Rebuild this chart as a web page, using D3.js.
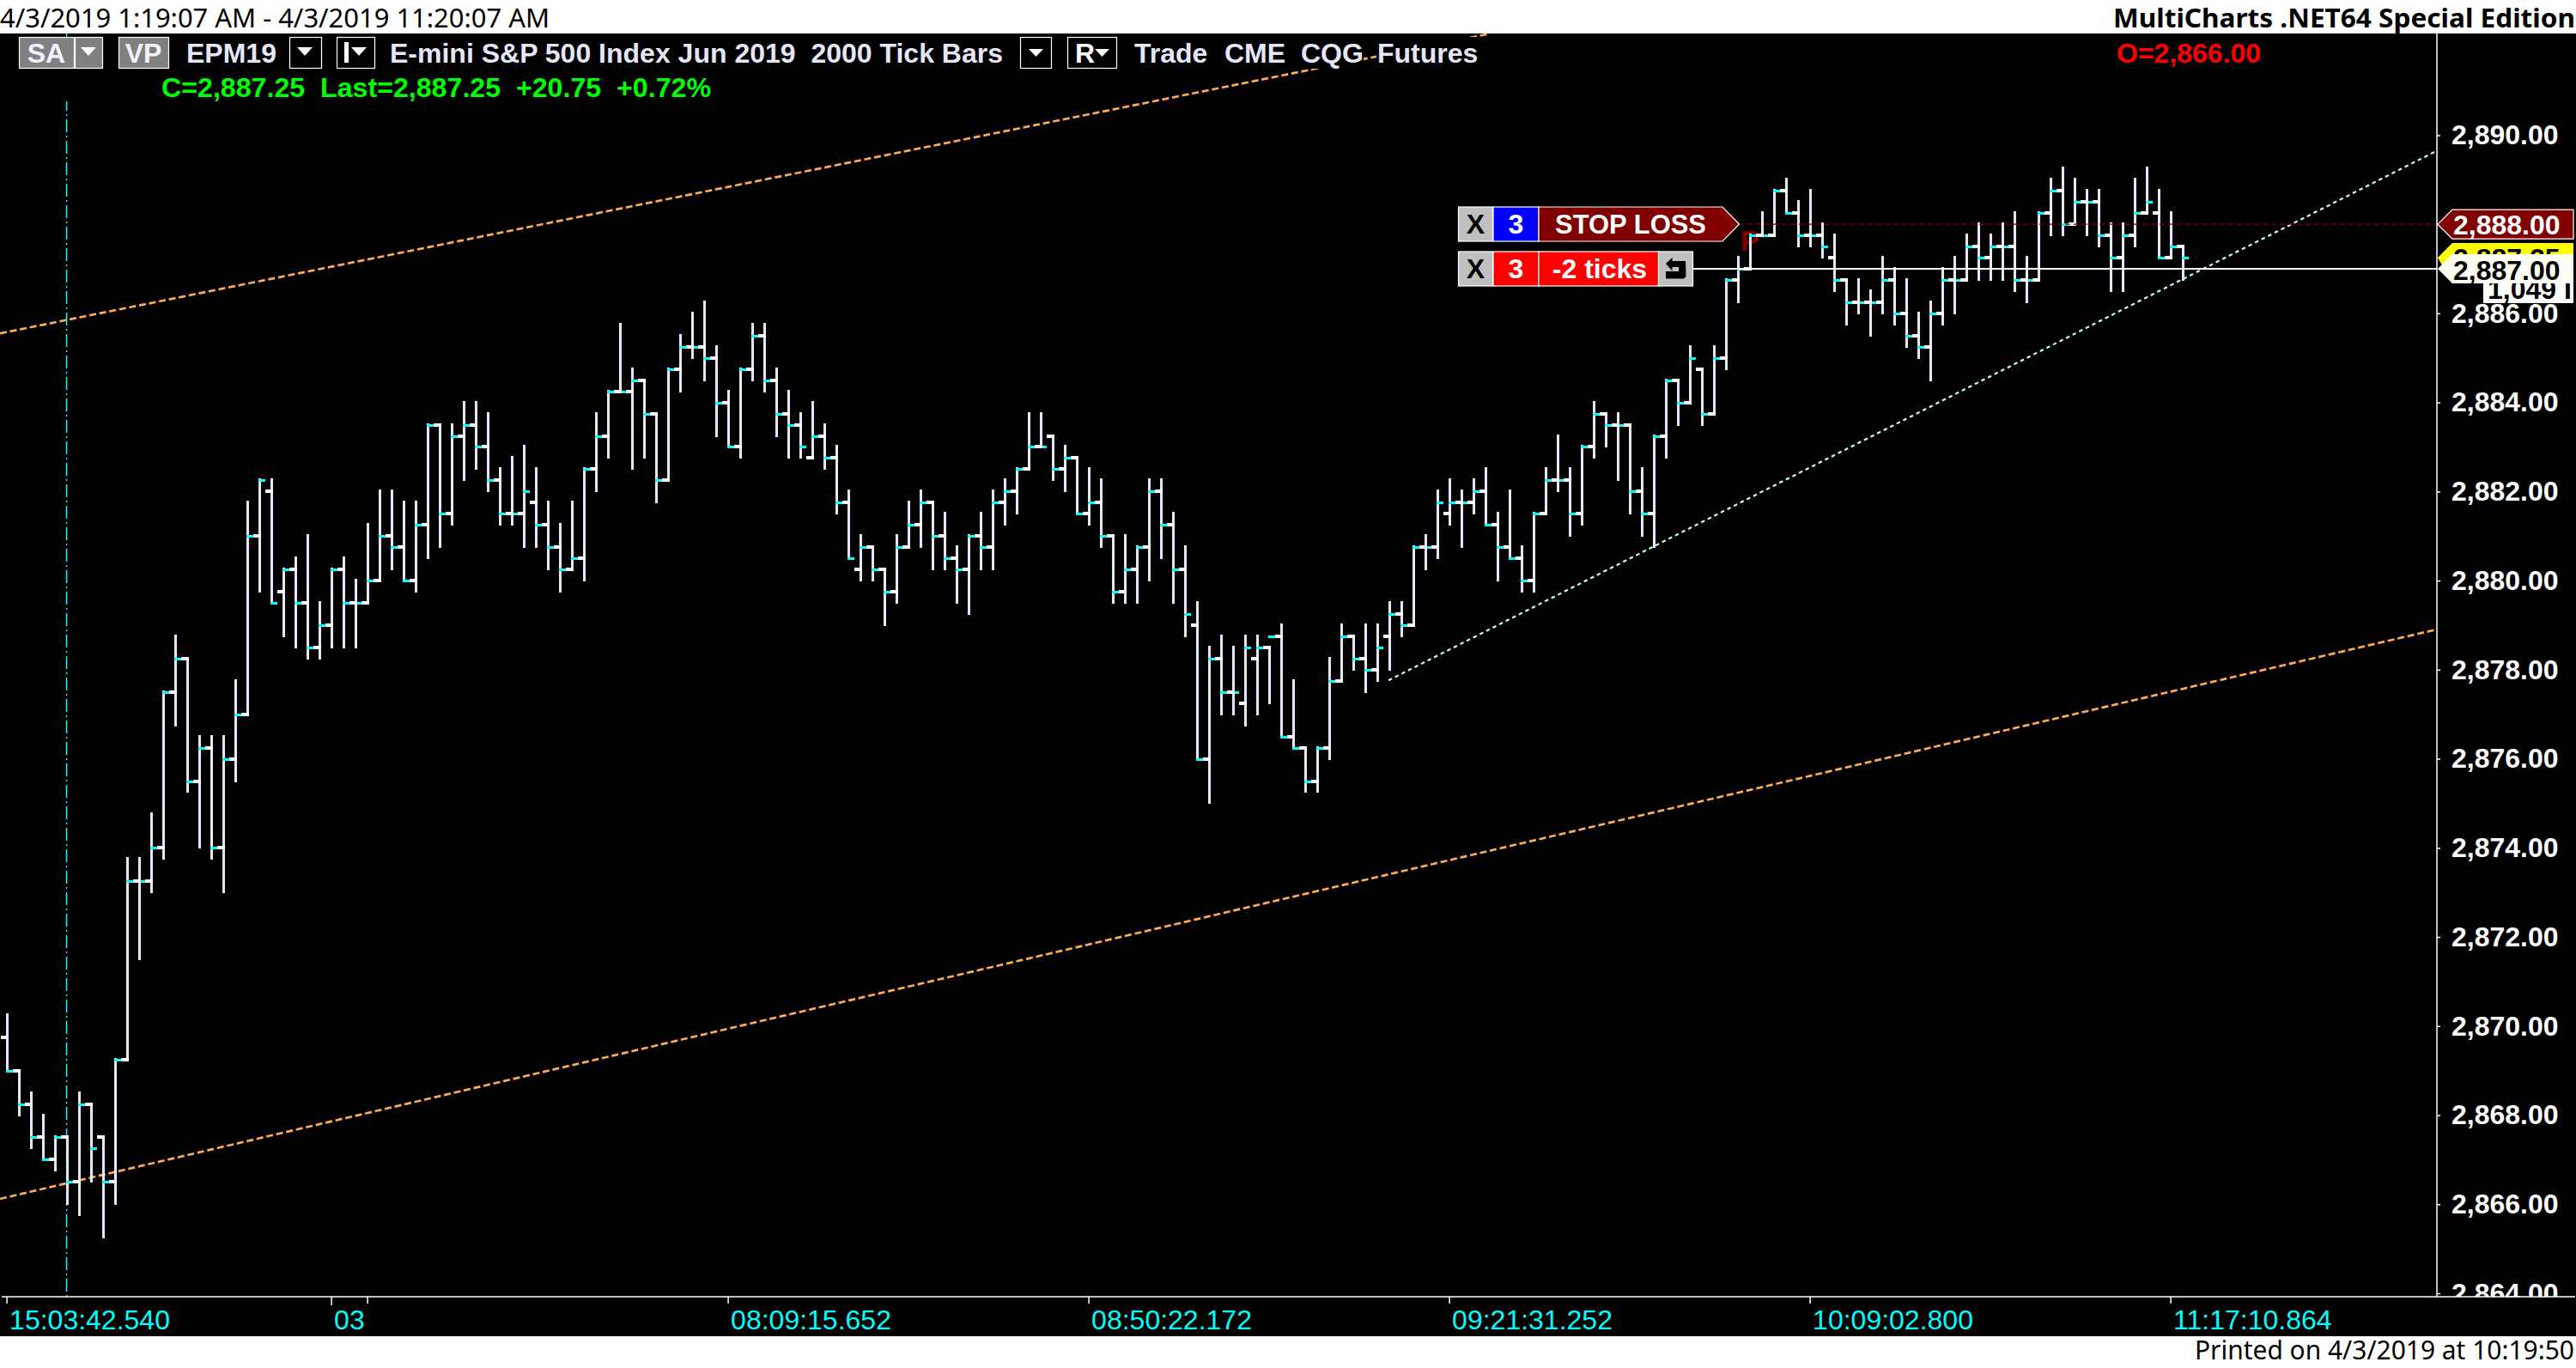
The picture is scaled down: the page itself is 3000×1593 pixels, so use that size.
<!DOCTYPE html>
<meta charset="utf-8">
<head>
    <script src="https://d3js.org/d3.v7.min.js"></script>
    <title>EPM19 2000 Tick Bars</title>
</head>
<body>
    <div id="chart"></div>
</body>
<style>
    html, body { margin: 0; padding: 0; background: #fff; overflow: hidden; }
    svg { display: block; }
    text { font-family: "Liberation Sans", Arial, sans-serif; white-space: pre; }
    .axis text { font-family: "Liberation Sans", Arial, sans-serif; }
</style>
<script>
    // OHLC of the 2000 tick bars, one value per bar
    var opens = [2869.75,2869,2868.25,2867.5,2867,2867.5,2866.5,2868.25,2867.5,2866.5,
        2869.25,2873.25,2873.25,2874,2877.5,2878.25,2875.5,2876.25,2874,2876,
        2877,2881,2882,2879.75,2880.25,2879.5,2878.5,2879,2880.25,2879.5,
        2879.5,2880,2881,2880.75,2880,2881.25,2883.5,2881.5,2883.25,2883.5,
        2883,2882.25,2881.5,2881.5,2881.75,2881.25,2880.75,2880.25,2880.5,2882.5,
        2883.25,2884.25,2884.25,2884.5,2883.75,2882.25,2884.75,2885.25,2885.25,2885,
        2884,2883,2884.75,2885.5,2884.5,2883.75,2883.5,2882.75,2883.25,2882.75,
        2881.75,2880.25,2880.75,2880.25,2879.75,2880.75,2881.25,2881.75,2881,2880.5,
        2880.25,2881,2880.75,2881.75,2882,2882.5,2883,2883.25,2882.5,2882.75,
        2881.5,2881.75,2881,2879.75,2880.25,2880.75,2882,2881.25,2880.25,2879,
        2876,2878.25,2877.5,2877.25,2878.25,2878.5,2878.75,2876.5,2876.25,2875.5,
        2876.25,2877.75,2878.75,2878.25,2878,2878.75,2879.25,2879,2880.75,2880.75,
        2881.5,2881.75,2881.75,2882,2881.25,2880.75,2880.5,2880,2881.5,2882.25,
        2882.25,2881.5,2883,2883.75,2883.5,2883.5,2882,2881.5,2883.25,2884.5,
        2884,2884.75,2883.75,2885,2886.75,2887,2887.75,2887.75,2888.75,2888.25,
        2887.75,2887.75,2887.25,2886.75,2886.25,2886.25,2886.25,2886.75,2886,2885.5,
        2885.25,2886,2886.75,2886.75,2887.5,2887.25,2887.5,2887.5,2886.75,2886.75,
        2888.25,2888.75,2888,2888.5,2888.5,2887.75,2887.25,2887.75,2888.25,2888.25,
        2887.25,2887.5];
    var highs = [2870.25,2869,2868.5,2868,2867.5,2867.5,2868.5,2868.25,2867.5,2869.25,
        2873.75,2873.75,2874.75,2877.5,2878.75,2878.25,2876.5,2876.5,2876.5,2877.75,
        2881.75,2882.25,2882.25,2880.25,2880.5,2881,2879.5,2880.25,2880.5,2880,
        2881.25,2882,2882,2881.75,2881.75,2883.5,2883.5,2883.5,2884,2884,
        2883.75,2882.5,2882.75,2883,2882.5,2881.75,2881.25,2881.75,2882.5,2883.75,
        2884.25,2885.75,2884.75,2884.5,2883.75,2884.75,2885.5,2886,2886.25,2885.25,
        2884.25,2884.75,2885.75,2885.75,2884.75,2884.25,2883.75,2884,2883.5,2883,
        2882,2881,2880.75,2880.25,2881,2881.75,2882,2881.75,2881.5,2880.75,
        2881,2881.5,2882,2882.25,2882.5,2883.75,2883.75,2883.25,2883,2882.75,
        2882.5,2882.25,2881,2881,2880.75,2882.25,2882.25,2881.5,2880.75,2879.5,
        2878.5,2878.75,2878.5,2878.75,2878.75,2878.5,2879,2877.75,2876.25,2876.25,
        2878.25,2879,2878.75,2879,2879,2879.5,2879.5,2880.75,2881,2882,
        2882.25,2882,2882.25,2882.5,2881.5,2882,2880.75,2881.5,2882.5,2883.25,
        2882.5,2883,2884,2883.75,2883.75,2883.5,2882.5,2883.25,2884.5,2884.5,
        2885.25,2884.75,2885.25,2886.75,2887.25,2887.75,2888.25,2888.75,2889,2888.5,
        2888.75,2888,2887.75,2886.75,2886.75,2886.5,2887.25,2887,2886.75,2886,
        2886.25,2887,2887.25,2887.75,2888,2887.75,2888,2888.25,2887.25,2888.25,
        2889,2889.25,2889,2888.75,2888.75,2888,2888,2889,2889.25,2888.75,
        2888.25,2887.5];
    var lows = [2869,2868,2867.25,2867,2866.75,2866,2865.75,2866.5,2865.25,2866,
        2869.25,2871.5,2873,2873.75,2876.75,2875.25,2874,2873.75,2873,2875.5,
        2877,2879.75,2879.5,2878.75,2878.5,2878.25,2878.25,2878.5,2878.5,2878.5,
        2879.5,2880,2880.25,2880,2879.75,2880.5,2880.75,2881.25,2882.25,2882.5,
        2882,2881.25,2881.25,2880.75,2880.75,2880.25,2879.75,2880.25,2880,2882,
        2882.75,2884.25,2882.5,2882.75,2881.75,2882.25,2884.25,2885,2884.5,2883.25,
        2883,2882.75,2884.5,2884.25,2883.25,2882.75,2882.75,2882.75,2882.5,2881.5,
        2880.5,2880,2880,2879,2879.5,2880.75,2880.75,2880.25,2880.25,2879.5,
        2879.25,2880.25,2880.25,2881.25,2881.5,2882.5,2883,2882.25,2882,2881.5,
        2881.25,2880.75,2879.5,2879.5,2879.5,2880,2880.5,2879.5,2878.75,2876,
        2875,2877,2877,2876.75,2877,2877.25,2876.5,2876.25,2875.25,2875.25,
        2876,2877.75,2878,2877.5,2877.75,2878,2878.75,2879,2880.25,2880.5,
        2881.25,2880.75,2881.5,2881.25,2880,2880.5,2879.75,2879.75,2881.5,2882,
        2881,2881.25,2882.75,2883,2882.25,2881.5,2881,2880.75,2882.75,2883.5,
        2884,2883.5,2883.75,2884.75,2886.25,2887,2887.75,2887.75,2888.25,2887.5,
        2887.5,2887.25,2886.5,2885.75,2886,2885.5,2886,2885.75,2885.25,2885,
        2884.5,2885.75,2886,2886.75,2886.75,2886.75,2886.75,2886.5,2886.25,2886.75,
        2887.75,2887.75,2888,2887.75,2887.5,2886.5,2886.5,2887.5,2888.25,2887.25,
        2887.25,2886.75];
    var closes = [2869,2868.25,2867.5,2867,2867.5,2866.5,2868.25,2867.25,2866.5,2869.25,
        2873.25,2873.25,2874,2877.5,2878.25,2875.5,2876.25,2874,2876,2877,
        2881,2882.25,2879.5,2880.25,2879.5,2878.5,2879,2880.25,2879.5,2879.5,
        2880,2881,2880.75,2880,2881.25,2883.5,2881.5,2883.25,2883.5,2883,
        2882.25,2881.5,2881.5,2882,2881.25,2880.75,2880.25,2880.5,2882.5,2883.25,
        2884.25,2884.25,2884.5,2883.75,2882.25,2884.75,2885.25,2885.25,2885,2884,
        2883,2884.75,2885.5,2884.5,2883.75,2883.5,2883,2883.25,2882.75,2881.75,
        2880.5,2880.75,2880.25,2879.75,2880.75,2881.25,2881.75,2881,2880.5,2880.25,
        2881,2880.75,2881.75,2882,2882.5,2883,2883,2882.5,2882.75,2881.5,
        2881.75,2881,2879.75,2880.25,2880.75,2882,2881.25,2880.25,2879.25,2876,
        2878.25,2877.5,2877.5,2878.5,2878.5,2878.75,2876.5,2876.25,2875.5,2876.25,
        2877.75,2878.75,2878.25,2878,2878.5,2879.25,2879,2880.75,2880.75,2881.75,
        2881.75,2881.75,2882,2881.25,2880.75,2880.5,2880,2881.5,2882.25,2882.25,
        2881.5,2883,2883.75,2883.5,2883.5,2882,2881.5,2883.25,2884.5,2884,
        2885,2883.75,2885,2886.75,2887,2887.75,2887.75,2888.75,2888.25,2887.75,
        2887.75,2887.5,2886.75,2886.25,2886.25,2886.25,2886.75,2886,2885.5,2885.25,
        2886,2886.75,2886.75,2887.5,2887.25,2887.5,2887.5,2886.75,2886.75,2888.25,
        2888.75,2888,2888.5,2888.5,2887.75,2887.25,2887.75,2888.25,2888.5,2887.25,
        2887.5,2887.25];

    // price axis ticks
    var priceTicks = [2864,2866,2868,2870,2872,2874,2876,2878,2880,2882,2884,2886,2888,2890];

    // time axis, bar index of each tick and its label
    var timeTickBars = [0,27,30,60,90,120,150,180];
    var timeTickLabels = ["15:03:42.540","03","","08:09:15.652","08:50:22.172","09:21:31.252","10:09:02.800","11:17:10.864"];

    // drawn lines, ends given as bar index and price
    var upperChannel = [[-0.543,2885.55],[123.4,2892.28]];
    var lowerChannel = [[-0.543,2866.12],[202.1,2878.9]];
    var trendLine = [[114.96,2877.76],[202.1,2889.64]];
    var cursorBar = 5;

    // order levels
    var stopPrice = 2888;
    var lastPrice = 2887.25;
    var entryPrice = 2887;

    var width = 3000, height = 1593;
    var plotTop = 39, plotBottom = 1510, bandBottom = 1556, axisX = 2838;

    var svg = d3.select("#chart").append("svg")
        .attr("width", width)
        .attr("height", height);

    svg.append("rect").attr("width", width).attr("height", height).attr("fill", "#fff");
    svg.append("rect").attr("y", plotTop).attr("width", width).attr("height", bandBottom - plotTop).attr("fill", "#000");

    // scales
    var x = d3.scaleLinear().domain([0, 181]).range([7.6, 2541.6]);
    var y = d3.scaleLinear().domain([2864, 2890]).range([1506, 157.4]);

    var defs = svg.append("defs");
    defs.append("clipPath").attr("id", "plot")
        .append("rect").attr("x", 0).attr("y", plotTop).attr("width", axisX).attr("height", plotBottom - plotTop);
    defs.append("clipPath").attr("id", "priceclip")
        .append("rect").attr("x", axisX - 1).attr("y", plotTop).attr("width", width - axisX + 1).attr("height", plotBottom - plotTop);

    var plot = svg.append("g").attr("clip-path", "url(#plot)");

    // dash dot cursor line
    plot.append("line")
        .attr("x1", x(cursorBar)).attr("x2", x(cursorBar))
        .attr("y1", plotTop).attr("y2", plotBottom)
        .attr("stroke", "#00ffff").attr("stroke-width", 1.5)
        .attr("stroke-dasharray", "15,4,2,4");

    // channel and trend lines
    var lineGen = d3.line().x(function (d) { return x(d[0]); }).y(function (d) { return y(d[1]); });
    [upperChannel, lowerChannel].forEach(function (l) {
        plot.append("path").attr("d", lineGen(l))
            .attr("fill", "none").attr("stroke", "#ffaa55").attr("stroke-width", 2.7)
            .attr("stroke-dasharray", "8,3.8");
    });
    plot.append("path").attr("d", lineGen(trendLine))
        .attr("fill", "none").attr("stroke", "#c4ffff").attr("stroke-width", 2.2)
        .attr("stroke-dasharray", "4.5,4");

    // the P marker sits behind the bars
    plot.append("text").attr("x", 2027).attr("y", 292)
        .attr("font-size", 33).attr("font-weight", "bold").attr("fill", "#800000").text("P");

    // bars
    var barIdx = d3.range(opens.length);
    var bars = plot.append("g").attr("shape-rendering", "crispEdges");
    bars.selectAll(".range").data(barIdx).enter().append("rect")
        .attr("class", "range")
        .attr("x", function (i) { return Math.round(x(i)) - 1; })
        .attr("width", 3)
        .attr("y", function (i) { return Math.round(y(highs[i])) - 2; })
        .attr("height", function (i) { return Math.round(y(lows[i])) - Math.round(y(highs[i])) + 3; })
        .attr("fill", "#e6e6fa");
    bars.selectAll(".close").data(barIdx).enter().append("rect")
        .attr("class", "close")
        .attr("x", function (i) { return Math.round(x(i)) - 1; })
        .attr("width", 8)
        .attr("y", function (i) { return Math.round(y(closes[i])) - 1; })
        .attr("height", 3)
        .attr("fill", "#00ffff");
    bars.selectAll(".open").data(barIdx).enter().append("rect")
        .attr("class", "open")
        .attr("x", function (i) { return Math.round(x(i)) - 7; })
        .attr("width", 9)
        .attr("y", function (i) { return Math.round(y(opens[i])) - 2; })
        .attr("height", 4)
        .attr("fill", "#fff");

    // stop and entry level lines
    svg.append("line")
        .attr("x1", 2025).attr("x2", axisX)
        .attr("y1", y(stopPrice)).attr("y2", y(stopPrice))
        .attr("stroke", "#800000").attr("stroke-width", 1.2).attr("stroke-dasharray", "6,4");
    svg.append("line")
        .attr("x1", 1972).attr("x2", axisX)
        .attr("y1", y(entryPrice)).attr("y2", y(entryPrice))
        .attr("stroke", "#fff").attr("stroke-width", 2);

    // price axis
    var priceAxis = svg.append("g").attr("class", "axis")
        .attr("clip-path", "url(#priceclip)")
        .append("g")
        .attr("transform", "translate(" + axisX + ",0)")
        .call(d3.axisRight(y).tickValues(priceTicks).tickFormat(d3.format(",.2f")).tickSize(4).tickPadding(13));
    priceAxis.select(".domain").remove();
    priceAxis.selectAll("line").attr("stroke", "#fff").attr("stroke-width", 1.5);
    priceAxis.selectAll("text").attr("fill", "#fff").attr("font-size", 32).attr("font-weight", "bold")
        .attr("font-family", "Liberation Sans");
    svg.append("line").attr("x1", axisX).attr("x2", axisX).attr("y1", plotTop).attr("y2", plotBottom)
        .attr("stroke", "#fff").attr("stroke-width", 1.5);

    // time axis
    var timeAxis = svg.append("g").attr("class", "axis")
        .attr("transform", "translate(0," + plotBottom + ")")
        .call(d3.axisBottom(x).tickValues(timeTickBars)
            .tickFormat(function (d) { return timeTickLabels[timeTickBars.indexOf(d)]; })
            .tickSize(8).tickPadding(0));
    timeAxis.select(".domain").remove();
    timeAxis.selectAll("line").attr("stroke", "#fff").attr("stroke-width", 1.5)
        .attr("y2", function (d) { return d === 27 ? 10 : 8; });
    timeAxis.selectAll("text")
        .attr("fill", "#00ffff").attr("font-size", 32).attr("font-family", "Liberation Sans")
        .attr("text-anchor", "start").attr("x", 3).attr("y", 15).attr("dy", 0)
        .attr("dominant-baseline", "hanging");
    svg.append("line").attr("x1", 2).attr("x2", 2999).attr("y1", plotBottom).attr("y2", plotBottom)
        .attr("stroke", "#fff").attr("stroke-width", 1.5);

    // white title bands
    svg.append("text").attr("x", 0).attr("y", 32).attr("font-size", 31).attr("fill", "#000")
        .style("font-family", "Noto Sans").attr("textLength", 640).attr("lengthAdjust", "spacingAndGlyphs")
        .text("4/3/2019 1:19:07 AM - 4/3/2019 11:20:07 AM");
    svg.append("text").attr("x", 2461).attr("y", 32).attr("font-size", 31).attr("font-weight", "bold").attr("fill", "#000")
        .style("font-family", "Noto Sans").attr("textLength", 538).attr("lengthAdjust", "spacingAndGlyphs")
        .text("MultiCharts .NET64 Special Edition");
    svg.append("text").attr("x", 2556).attr("y", 1583).attr("font-size", 31).attr("fill", "#000")
        .style("font-family", "Noto Sans").attr("textLength", 442).attr("lengthAdjust", "spacingAndGlyphs")
        .text("Printed on 4/3/2019 at 10:19:50");

    // header, black patches hide what passes behind the text
    var head = svg.append("g");
    [[0, 43, 186, 75], [1513, 43, 75, 37], [1603, 43, 118, 37]].forEach(function (r) {
        head.append("rect").attr("x", r[0]).attr("y", r[1]).attr("width", r[2]).attr("height", r[3]).attr("fill", "#000");
    });

    function label(g, px, py, str, size, fill, anchor) {
        return g.append("text").attr("x", px).attr("y", py)
            .attr("font-size", size).attr("font-weight", "bold").attr("fill", fill)
            .attr("text-anchor", anchor || "start").text(str);
    }
    function box(g, bx, by, w, h, fill, stroke) {
        return g.append("rect").attr("x", bx).attr("y", by).attr("width", w).attr("height", h)
            .attr("fill", fill).attr("stroke", stroke || "#fff").attr("stroke-width", 1.2);
    }
    function tri(g, tx, ty, w, h) {
        g.append("path").attr("d", "M" + tx + "," + ty + "h" + w + "l" + (-w / 2) + "," + h + "z").attr("fill", "#fff");
    }

    box(head, 22.5, 43.5, 64, 36, "#808080");
    box(head, 87.5, 43.5, 32, 36, "#808080");
    tri(head, 94, 55, 18, 10);
    label(head, 54, 73, "SA", 32, "#f0f0ff", "middle");
    box(head, 138.5, 43.5, 58, 36, "#808080");
    label(head, 167, 73, "VP", 32, "#f0f0ff", "middle");
    label(head, 217, 73, "EPM19", 32, "#e6e6fa");
    box(head, 337.5, 43.5, 37, 36, "#000");
    tri(head, 346, 55, 18, 10);
    box(head, 392.5, 43.5, 44, 36, "#000");
    head.append("rect").attr("x", 401).attr("y", 49).attr("width", 5).attr("height", 24).attr("fill", "#fff");
    tri(head, 409, 55, 18, 10);
    label(head, 454, 73, "E-mini S&P 500 Index Jun 2019  2000 Tick Bars", 32, "#e6e6fa")
        .attr("textLength", 714).attr("lengthAdjust", "spacingAndGlyphs");
    box(head, 1188.5, 43.5, 36, 36, "#000");
    tri(head, 1198, 57, 17, 9);
    box(head, 1243.5, 43.5, 57, 36, "#000");
    label(head, 1252, 73, "R", 32, "#fff");
    tri(head, 1275, 57, 17, 9);
    label(head, 1321, 73, "Trade", 32, "#e6e6fa");
    label(head, 1426, 73, "CME", 32, "#e6e6fa");
    label(head, 1515, 73, "CQG", 32, "#e6e6fa");
    label(head, 1604, 73, "Futures", 32, "#e6e6fa");
    label(head, 188, 113, "C=2,887.25  Last=2,887.25  +20.75  +0.72%", 32, "#00ff00")
        .attr("textLength", 640).attr("lengthAdjust", "spacingAndGlyphs");
    label(head, 2465, 73, "O=2,866.00", 32, "#ff0000");

    // price tags on the axis
    var tagLeft = 2839, tagBody = 2856, tagRight = 2997;
    function tagPath(py, h1, h2) {
        return "M" + tagLeft + "," + py + "L" + tagBody + "," + (py - h1) + "H" + tagRight + "V" + (py + h2) + "H" + tagBody + "Z";
    }
    var fmt = d3.format(",.2f");
    svg.append("path").attr("d", tagPath(y(lastPrice), 17, 30)).attr("fill", "#ffff00");
    label(svg, 2857, y(lastPrice) + 12, fmt(lastPrice), 32, "#000");
    svg.append("path").attr("d", tagPath(y(entryPrice), 17, 17)).attr("fill", "#fffff5");
    label(svg, 2857, y(entryPrice) + 13, fmt(entryPrice), 32, "#000");
    svg.append("path").attr("d", tagPath(y(stopPrice), 17, 17))
        .attr("fill", "#800000").attr("stroke", "#fff").attr("stroke-width", 1.2);
    label(svg, 2857, y(stopPrice) + 12, fmt(stopPrice), 32, "#fff");

    // tick count tag, top of the digits is cut by the tag above
    defs.append("clipPath").attr("id", "countclip")
        .append("rect").attr("x", 2892).attr("y", 330).attr("width", 105).attr("height", 23);
    var countTag = svg.append("g").attr("clip-path", "url(#countclip)");
    countTag.append("rect").attr("x", 2892).attr("y", 330).attr("width", 105).attr("height", 23).attr("fill", "#fff");
    label(countTag, 2897, 348, "1,049 I", 32, "#000");

    // order bar
    var ord = svg.append("g");
    function xBox(by) {
        box(ord, 1698.5, by, 40, 40, "#c0c0c0");
        label(ord, 1718.5, by + 31, "X", 32, "#000", "middle");
    }
    xBox(241);
    box(ord, 1739, 241, 53, 40, "#0000ff");
    label(ord, 1765.5, 272, "3", 32, "#fff", "middle");
    ord.append("path").attr("d", "M1792,241H2006L2025.5,261L2006,281H1792Z")
        .attr("fill", "#800000").attr("stroke", "#fff").attr("stroke-width", 1.2);
    label(ord, 1899, 272, "STOP LOSS", 32, "#fff", "middle")
        .attr("textLength", 176).attr("lengthAdjust", "spacingAndGlyphs");

    xBox(293);
    box(ord, 1739, 293, 53, 40, "#ff0000");
    label(ord, 1765.5, 324, "3", 32, "#fff", "middle");
    box(ord, 1792, 293, 139.5, 40, "#ff0000");
    label(ord, 1863, 324, "-2 ticks", 32, "#fff", "middle");
    box(ord, 1931.5, 293, 40, 40, "#c0c0c0");
    ord.append("path")
        .attr("d", "M1940,307L1947.5,300V304H1963L1963.5,322L1961,324.5H1940V316H1955V311H1947.5V315.5Z")
        .attr("fill", "#000");
</script>
